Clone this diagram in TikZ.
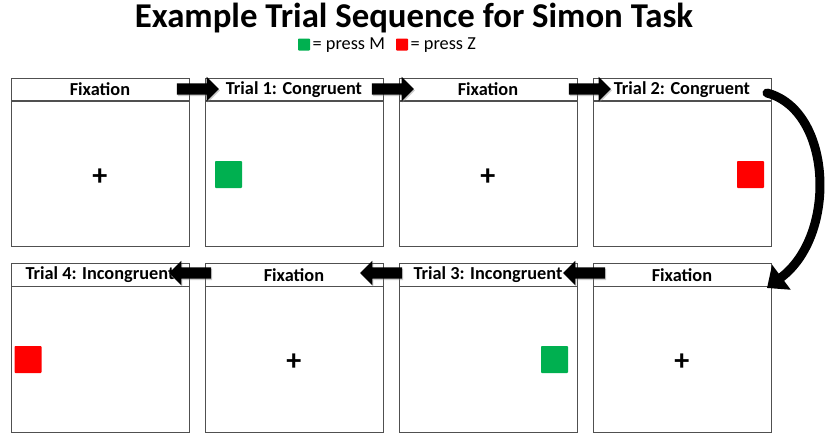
\documentclass[tikz,border=0pt]{standalone}
\usepackage{fontspec}
\setmainfont{Carlito}
\usetikzlibrary{shapes.arrows,shadows,arrows.meta}
\definecolor{pgreen}{HTML}{00B050}
\definecolor{pred}{HTML}{FF0000}
\definecolor{frame}{HTML}{505050}
\tikzset{
  hdr/.style={draw=frame,line width=0.9pt,minimum width=178pt,minimum height=23pt,inner sep=0pt,anchor=north west,font=\fontsize{18.3}{20}\selectfont\bfseries},
  bodybox/.style={draw=frame,line width=0.9pt,minimum width=178pt,minimum height=146pt,inner sep=0pt,anchor=north west},
  plus/.style={font=\fontsize{30}{30}\selectfont\bfseries,inner sep=0pt},
  sq/.style={minimum size=27pt,inner sep=0pt,rounded corners=0.8pt},
  blockarrow/.style={single arrow,fill=black,minimum height=42pt,minimum width=24pt,single arrow head extend=6.5pt,single arrow tip angle=90,inner xsep=0pt,inner ysep=5.5pt,
    drop shadow={shadow xshift=1pt,shadow yshift=-1.5pt,opacity=0.4}},
}
\begin{document}
\begin{tikzpicture}[x=1pt,y=-1pt]
\useasboundingbox[fill=white] (0,0) rectangle (827,445);
\node[font=\fontsize{34.8}{36}\selectfont\bfseries] (title) at (414,18) {Example Trial Sequence for Simon Task};
\node[sq,minimum size=12pt,fill=pgreen] (lg) at (304,44.5) {};
\node[anchor=west,font=\fontsize{18.3}{20}\selectfont,inner sep=0pt] (lgt) at (312.5,45.5) {= press M};
\node[sq,minimum size=12pt,fill=pred] (lr) at (402,44.5) {};
\node[anchor=west,font=\fontsize{18.3}{20}\selectfont,inner sep=0pt] (lrt) at (410.5,45.5) {= press Z};
% row 1
\node[bodybox] (b1) at (10.5,100) {};
\node[bodybox] (b2) at (204.5,100) {};
\node[bodybox] (b3) at (398.5,100) {};
\node[bodybox] (b4) at (592.5,100) {};
\node[hdr] (h1) at (10.5,77.5) {Fixation};
\node[hdr] (h2) at (204.5,77.5) {Trial 1: Congruent};
\node[hdr] (h3) at (398.5,77.5) {Fixation};
\node[hdr] (h4) at (592.5,77.5) {Trial 2: Congruent};
% row 2
\node[bodybox] (b5) at (10.5,285.5) {};
\node[bodybox] (b6) at (204.5,285.5) {};
\node[bodybox] (b7) at (398.5,285.5) {};
\node[bodybox] (b8) at (592.5,285.5) {};
\node[hdr] (h5) at (10.5,263) {Trial 4: Incongruent};
\node[hdr] (h6) at (204.5,263) {Fixation};
\node[hdr] (h7) at (398.5,263) {Trial 3: Incongruent};
\node[hdr] (h8) at (592.5,263) {Fixation};
% contents
\node[plus] (p1) at ([yshift=-3.5pt]b1.center) {+};
\node[plus] (p3) at ([yshift=-3.5pt]b3.center) {+};
\node[plus] (p6) at ([yshift=-3.5pt]b6.center) {+};
\node[plus] (p8) at ([yshift=-3.5pt]b8.center) {+};
\node[sq,fill=pgreen] (s2) at (228.5,174.5) {};
\node[sq,fill=pred] (s4) at (750.5,174.5) {};
\node[sq,fill=pred] (s5) at (28,359.5) {};
\node[sq,fill=pgreen] (s7) at (554.5,359.5) {};
% arrows
\node[blockarrow] (a1) at (195,89) {};
\node[blockarrow] (a2) at (390,89) {};
\node[blockarrow] (a3) at (587,89) {};
\node[blockarrow,shape border rotate=180] (a4) at (587,273) {};
\node[blockarrow,shape border rotate=180] (a5) at (384,273) {};
\node[blockarrow,shape border rotate=180] (a6) at (193,273) {};
% curved arrow
\coordinate (cs) at (767,93);
\coordinate (ce) at (767,288);
\draw[line width=9pt,line cap=round,-{Triangle[length=18pt,width=30pt]}] (cs) .. controls (832,110) and (838,235) .. (ce);
\end{tikzpicture}
\end{document}
